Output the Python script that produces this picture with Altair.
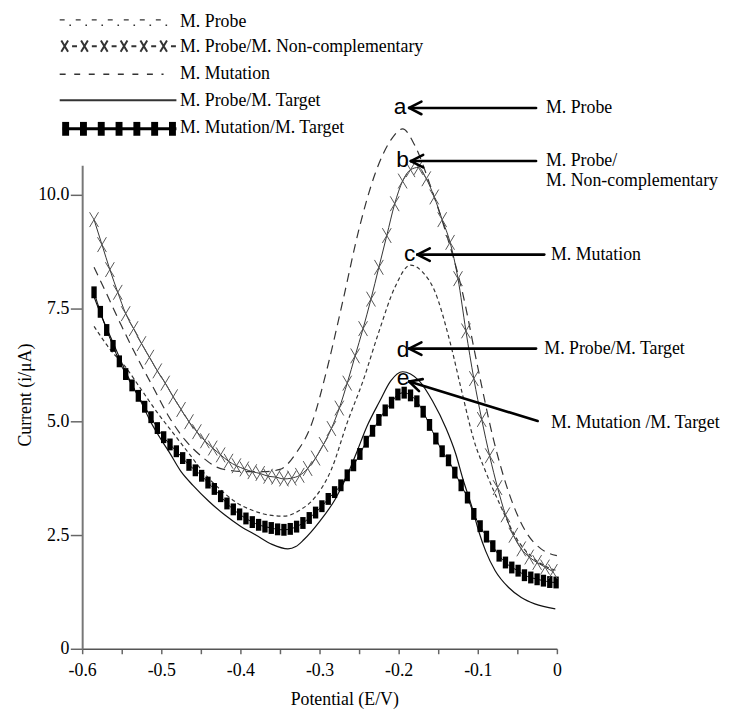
import math
import altair as alt
import pandas as pd

# ---------------- data ----------------
# a: M. Probe (long dashes)
POT_A = [-0.585, -0.57, -0.55, -0.53, -0.51, -0.49, -0.47, -0.45, -0.43, -0.41,
         -0.39, -0.37, -0.35, -0.33, -0.31, -0.29, -0.27, -0.25, -0.23, -0.21,
         -0.195, -0.18, -0.16, -0.14, -0.12, -0.10, -0.08, -0.06, -0.04, -0.02, 0.0]
CUR_A = [8.4, 7.85, 7.1, 6.4, 5.75, 5.1, 4.6, 4.25, 4.0, 3.92,
         3.9, 3.9, 3.95, 4.3, 4.95, 6.2, 7.7, 9.25, 10.45, 11.2,
         11.45, 11.1, 10.2, 9.15, 7.9, 6.2, 4.6, 3.4, 2.6, 2.2, 2.05]

# b: M. Probe/M. Non-complementary (X markers)
POT_B = [-0.585, -0.575, -0.565, -0.555, -0.545, -0.535, -0.525, -0.515, -0.505, -0.495,
         -0.485, -0.475, -0.465, -0.455, -0.445, -0.435, -0.425, -0.415, -0.405, -0.395,
         -0.385, -0.375, -0.365, -0.355, -0.345, -0.335, -0.325, -0.315, -0.305, -0.295,
         -0.285, -0.275, -0.265, -0.255, -0.245, -0.235, -0.225, -0.215, -0.205, -0.195,
         -0.185, -0.175, -0.165, -0.155, -0.145, -0.135, -0.125, -0.115, -0.105, -0.095,
         -0.085, -0.075, -0.065, -0.055, -0.045, -0.035, -0.025, -0.015, -0.005]
CUR_B = [9.45, 8.9, 8.35, 7.85, 7.38, 7.05, 6.72, 6.42, 6.12, 5.85,
         5.55, 5.27, 5.0, 4.78, 4.58, 4.42, 4.27, 4.13, 4.03, 3.96,
         3.9, 3.86, 3.8, 3.78, 3.74, 3.76, 3.82, 3.97, 4.2, 4.5,
         4.85, 5.3, 5.85, 6.45, 7.05, 7.7, 8.4, 9.1, 9.8, 10.3,
         10.55, 10.6, 10.35, 9.95, 9.45, 8.95, 8.15, 7.0, 5.95, 5.05,
         4.25, 3.55, 2.95, 2.5, 2.2, 2.02, 1.9, 1.8, 1.7]

# c: M. Mutation (short dashes)
POT_C = [-0.585, -0.565, -0.545, -0.525, -0.505, -0.485, -0.465, -0.445, -0.425, -0.405,
         -0.385, -0.365, -0.345, -0.325, -0.305, -0.285, -0.265, -0.245, -0.225, -0.205,
         -0.185, -0.17, -0.155, -0.135, -0.12, -0.105, -0.09, -0.07, -0.05, -0.03, -0.01, 0.0]
CUR_C = [7.1, 6.6, 6.2, 5.7, 5.2, 4.75, 4.3, 3.85, 3.5, 3.22,
         3.05, 2.95, 2.92, 3.05, 3.35, 3.95, 4.98, 5.9, 6.98, 7.95,
         8.45, 8.3, 7.9, 6.75, 5.65, 4.6, 3.9, 3.1, 2.4, 2.0, 1.78, 1.72]

# d: M. Probe/M. Target (solid)
POT_D = [-0.585, -0.575, -0.565, -0.555, -0.545, -0.535, -0.525, -0.515, -0.5, -0.49,
         -0.475, -0.46, -0.44, -0.42, -0.40, -0.38, -0.36, -0.34, -0.33, -0.32,
         -0.30, -0.28, -0.265, -0.253, -0.24, -0.224, -0.21, -0.195, -0.185, -0.174,
         -0.157, -0.14, -0.128, -0.119, -0.107, -0.099, -0.09, -0.078, -0.061, -0.045,
         -0.028, -0.002]
CUR_D = [7.75, 7.3, 6.9, 6.5, 6.1, 5.75, 5.42, 5.05, 4.6, 4.33,
         3.9, 3.6, 3.25, 2.95, 2.7, 2.5, 2.3, 2.2, 2.25, 2.4,
         2.8, 3.3, 3.82, 4.33, 4.9, 5.45, 5.9, 6.1, 6.05, 5.9,
         5.45, 4.85, 4.3, 3.75, 3.1, 2.6, 2.15, 1.72, 1.35, 1.13,
         0.99, 0.88]

# e: M. Mutation/M. Target (black square markers)
POT_E = [-0.585, -0.577, -0.569, -0.561, -0.553, -0.545, -0.537, -0.529, -0.521, -0.513,
         -0.505, -0.497, -0.489, -0.481, -0.473, -0.465, -0.457, -0.449, -0.441, -0.433,
         -0.425, -0.417, -0.409, -0.401, -0.393, -0.385, -0.377, -0.369, -0.361, -0.353,
         -0.345, -0.337, -0.329, -0.321, -0.313, -0.305, -0.297, -0.289, -0.281, -0.273,
         -0.265, -0.257, -0.249, -0.241, -0.233, -0.225, -0.217, -0.209, -0.201, -0.193,
         -0.185, -0.177, -0.169, -0.161, -0.153, -0.145, -0.137, -0.129, -0.121, -0.113,
         -0.105, -0.097, -0.089, -0.081, -0.073, -0.065, -0.057, -0.049, -0.041, -0.033,
         -0.025, -0.017, -0.009, -0.001]
CUR_E = [7.85, 7.42, 7.02, 6.67, 6.33, 6.05, 5.8, 5.57, 5.33, 5.1,
         4.86, 4.66, 4.5, 4.35, 4.2, 4.05, 3.93, 3.81, 3.66, 3.52,
         3.36, 3.2, 3.07, 2.96, 2.87, 2.79, 2.73, 2.69, 2.66, 2.63,
         2.62, 2.64, 2.69, 2.77, 2.88, 3.0, 3.14, 3.3, 3.45, 3.6,
         3.82, 4.04, 4.29, 4.56, 4.8, 5.04, 5.25, 5.42, 5.6, 5.64,
         5.58, 5.45, 5.22, 4.93, 4.63, 4.35, 4.15, 3.88, 3.6, 3.33,
         2.97, 2.7, 2.47, 2.26, 2.05, 1.9, 1.79, 1.72, 1.62, 1.57,
         1.53, 1.5, 1.47, 1.46]

XTICKS = [-0.6, -0.55, -0.5, -0.45, -0.4, -0.35, -0.3, -0.25, -0.2, -0.15, -0.1, -0.05, 0.0]
YTICKS = [0.0, 2.5, 5.0, 7.5, 10.0]

# peak labels and arrows (in data units)
LETTERS = ["a", "b", "c", "d", "e"]
LETTER_POT = [-0.1983, -0.195, -0.1859, -0.1943, -0.1943]
LETTER_CUR = [11.77, 10.61, 8.54, 6.43, 5.81]

ARROW_TIP_POT = [-0.1868, -0.1846, -0.1763, -0.1868, -0.1868]
ARROW_TIP_CUR = [11.91, 10.74, 8.68, 6.61, 5.886]
ARROW_TAIL_POT = [-0.0263, -0.0263, -0.0159, -0.0263, -0.0243]
ARROW_TAIL_CUR = [11.91, 10.74, 8.68, 6.61, 5.015]

NOTES = ["M. Probe", "M. Probe/", "M. Non-complementary", "M. Mutation",
         "M. Probe/M. Target", "M. Mutation /M. Target"]
NOTE_POT = [-0.0138, -0.0138, -0.0138, -0.0075, -0.0159, -0.0075]
NOTE_CUR = [11.79, 10.64, 10.19, 8.57, 6.49, 4.87]

LEGEND_NAMES = ["M. Probe", "M. Probe/M. Non-complementary", "M. Mutation",
                "M. Probe/M. Target", "M. Mutation/M. Target"]
LEGEND_TEXT_POT = -0.4763
LEGEND_ROW_CUR = [13.70, 13.15, 12.54, 11.96, 11.35]      # text baselines
LEGEND_SYM_CUR = [13.85, 13.27, 12.65, 12.08, 11.45]      # symbol centre lines
LEGEND_SYM_START = -0.6284
LEGEND_SYM_END = -0.4809
LEGEND_X_POT = [-0.6221, -0.5971, -0.5721, -0.5471, -0.5221, -0.4971]
LEGEND_SQ_POT = [-0.6209, -0.5984, -0.5759, -0.5534, -0.5309, -0.5084, -0.4859]

# ---------------- styling ----------------
FONT = "Liberation Serif"
WIDTH, HEIGHT = 480, 489
XDOM = [-0.6, 0.0]
YDOM = [0.0, 10.65]
PX_X = WIDTH / (XDOM[1] - XDOM[0])
PX_Y = HEIGHT / (YDOM[1] - YDOM[0])

XS = alt.Scale(domain=XDOM, nice=False, zero=False)
YS = alt.Scale(domain=YDOM, nice=False, zero=False)

x_axis = alt.Axis(
    values=XTICKS,
    labelExpr="(round(datum.value*100) % 10 == 0) ? toString(datum.value) : ''",
    grid=False, tickSize=5, tickWidth=1.5, tickColor="#666",
    domainColor="#555", domainWidth=1.5,
    labelFont=FONT, labelFontSize=18, labelColor="#000", labelPadding=8,
    labelFlush=False, labelOverlap=False,
    titleFont=FONT, titleFontSize=18, titleFontWeight="normal", titleColor="#000",
    titleX=265, titleY=56, titleBaseline="alphabetic", titleAlign="center",
)
y_axis = alt.Axis(
    values=YTICKS,
    labelExpr="datum.value == 0 ? '0' : format(datum.value, '.1f')",
    grid=False, tickSize=12, tickWidth=1.5, tickColor="#666",
    domainColor="#777", domainWidth=2,
    labelFont=FONT, labelFontSize=18, labelColor="#000", labelPadding=1.5,
    labelFlush=False, labelOverlap=False,
    titleFont=FONT, titleFontSize=18, titleFontWeight="normal", titleColor="#000",
    titleAngle=270, titleX=-57, titleY=232, titleBaseline="middle", titleAlign="center",
)


def XE():
    return alt.X("pot:Q", scale=XS, axis=x_axis, title="Potential (E/V)")


def YE():
    return alt.Y("cur:Q", scale=YS, axis=y_axis, title="Current (i/μA)")


def df(pot, cur):
    return pd.DataFrame({"pot": pot, "cur": cur})


def seg(p1, c1, p2, c2):
    return pd.DataFrame({"pot": [p1], "cur": [c1], "pot2": [p2], "cur2": [c2]})


X_PATH = "M-0.6,-1L0.6,1M0.6,-1L-0.6,1"
SQ_PATH = "M-0.45,-1L0.45,-1L0.45,1L-0.45,1Z"
SQ_LEG_PATH = "M-0.5,-1L0.5,-1L0.5,1L-0.5,1Z"

layers = []

# curve a
layers.append(alt.Chart(df(POT_A, CUR_A)).mark_line(
    color="#333", strokeWidth=1.2, strokeDash=[9, 6], interpolate="monotone"
).encode(x=XE(), y=YE(), order="pot:Q"))
# curve c
layers.append(alt.Chart(df(POT_C, CUR_C)).mark_line(
    color="#333", strokeWidth=1.2, strokeDash=[4, 3], interpolate="monotone"
).encode(x=XE(), y=YE(), order="pot:Q"))
# curve d
layers.append(alt.Chart(df(POT_D, CUR_D)).mark_line(
    color="#111", strokeWidth=1.2, interpolate="monotone"
).encode(x=XE(), y=YE(), order="pot:Q"))
# curve e
layers.append(alt.Chart(df(POT_E, CUR_E)).mark_line(
    color="#000", strokeWidth=1, interpolate="monotone"
).encode(x=XE(), y=YE(), order="pot:Q"))
layers.append(alt.Chart(df(POT_E, CUR_E)).mark_point(
    shape=SQ_PATH, size=144, filled=True, color="#000", opacity=1, strokeWidth=0
).encode(x=XE(), y=YE()))
# curve b
layers.append(alt.Chart(df(POT_B, CUR_B)).mark_line(
    color="#333", strokeWidth=1, interpolate="monotone"
).encode(x=XE(), y=YE(), order="pot:Q"))
layers.append(alt.Chart(df(POT_B, CUR_B)).mark_point(
    shape=X_PATH, size=225, filled=False, color="#555", opacity=1, strokeWidth=1
).encode(x=XE(), y=YE()))

# arrows: shafts + open heads
seg_p, seg_c, seg_p2, seg_c2 = [], [], [], []
for tp, tc, up, uc in zip(ARROW_TIP_POT, ARROW_TIP_CUR, ARROW_TAIL_POT, ARROW_TAIL_CUR):
    seg_p.append(tp); seg_c.append(tc); seg_p2.append(up); seg_c2.append(uc)
    dxp = (up - tp) * PX_X
    dyp = -(uc - tc) * PX_Y
    ang = math.atan2(dyp, dxp)
    for s in (1, -1):
        a = ang + s * math.radians(27)
        seg_p.append(tp); seg_c.append(tc)
        seg_p2.append(tp + 14 * math.cos(a) / PX_X)
        seg_c2.append(tc - 14 * math.sin(a) / PX_Y)
arrows = pd.DataFrame({"pot": seg_p, "cur": seg_c, "pot2": seg_p2, "cur2": seg_c2})
layers.append(alt.Chart(arrows).mark_rule(color="#000", strokeWidth=2.6, strokeCap="round").encode(
    x=XE(), y=YE(), x2="pot2:Q", y2="cur2:Q"))

# peak letters
layers.append(alt.Chart(pd.DataFrame({"pot": LETTER_POT, "cur": LETTER_CUR, "t": LETTERS})).mark_text(
    font="Liberation Sans", fontSize=23, align="center", baseline="alphabetic", color="#000"
).encode(x=XE(), y=YE(), text="t:N"))

# right-hand notes
layers.append(alt.Chart(pd.DataFrame({"pot": NOTE_POT, "cur": NOTE_CUR, "t": NOTES})).mark_text(
    font=FONT, fontSize=18, align="left", baseline="alphabetic", color="#000"
).encode(x=XE(), y=YE(), text="t:N"))

# ---------------- legend (top-left) ----------------
layers.append(alt.Chart(pd.DataFrame({"pot": [LEGEND_TEXT_POT] * 5, "cur": LEGEND_ROW_CUR, "t": LEGEND_NAMES})).mark_text(
    font=FONT, fontSize=18, align="left", baseline="alphabetic", color="#000"
).encode(x=XE(), y=YE(), text="t:N"))

dash_dot_end = LEGEND_SYM_START + 113 / PX_X
# row 1: dash-dot
layers.append(alt.Chart(seg(LEGEND_SYM_START, LEGEND_SYM_CUR[0], dash_dot_end, LEGEND_SYM_CUR[0])).mark_rule(
    color="#333", strokeWidth=1.4, strokeDash=[5, 11.2]).encode(x=XE(), y=YE(), x2="pot2:Q", y2="cur2:Q"))
dot_c = LEGEND_SYM_CUR[0] - 5.5 / PX_Y
layers.append(alt.Chart(seg(LEGEND_SYM_START, dot_c, dash_dot_end, dot_c)).mark_rule(
    color="#333", strokeWidth=1.6, strokeDash=[1.6, 14.6], strokeDashOffset=6.4).encode(
    x=XE(), y=YE(), x2="pot2:Q", y2="cur2:Q"))
# row 2: X-X-X
layers.append(alt.Chart(seg(LEGEND_SYM_START, LEGEND_SYM_CUR[1], LEGEND_SYM_END, LEGEND_SYM_CUR[1])).mark_rule(
    color="#333", strokeWidth=2, strokeDash=[5, 15], strokeDashOffset=7.5).encode(
    x=XE(), y=YE(), x2="pot2:Q", y2="cur2:Q"))
layers.append(alt.Chart(df(LEGEND_X_POT, [LEGEND_SYM_CUR[1]] * 6)).mark_point(
    shape=X_PATH, size=130, filled=False, color="#333", opacity=1, strokeWidth=2
).encode(x=XE(), y=YE()))
# row 3: dashed
layers.append(alt.Chart(seg(LEGEND_SYM_START, LEGEND_SYM_CUR[2], LEGEND_SYM_START + 105 / PX_X, LEGEND_SYM_CUR[2])).mark_rule(
    color="#333", strokeWidth=1.5, strokeDash=[6, 8.7]).encode(x=XE(), y=YE(), x2="pot2:Q", y2="cur2:Q"))
# row 4: solid
layers.append(alt.Chart(seg(LEGEND_SYM_START, LEGEND_SYM_CUR[3], LEGEND_SYM_END, LEGEND_SYM_CUR[3])).mark_rule(
    color="#333", strokeWidth=2).encode(x=XE(), y=YE(), x2="pot2:Q", y2="cur2:Q"))
# row 5: squares
layers.append(alt.Chart(seg(LEGEND_SYM_START + 3 / PX_X, LEGEND_SYM_CUR[4], LEGEND_SYM_END, LEGEND_SYM_CUR[4])).mark_rule(
    color="#000", strokeWidth=3).encode(x=XE(), y=YE(), x2="pot2:Q", y2="cur2:Q"))
layers.append(alt.Chart(df(LEGEND_SQ_POT, [LEGEND_SYM_CUR[4]] * 7)).mark_point(
    shape=SQ_LEG_PATH, size=196, filled=True, color="#000", opacity=1, strokeWidth=0
).encode(x=XE(), y=YE()))

chart = alt.layer(*layers).properties(
    width=WIDTH, height=HEIGHT,
    autosize=alt.AutoSizeParams(type="none"),
    padding={"left": 75, "top": 155, "right": 172, "bottom": 59},
    background="white",
).configure_view(stroke=None)

chart.save("out.html", embed_options={"renderer": "svg", "actions": False})
